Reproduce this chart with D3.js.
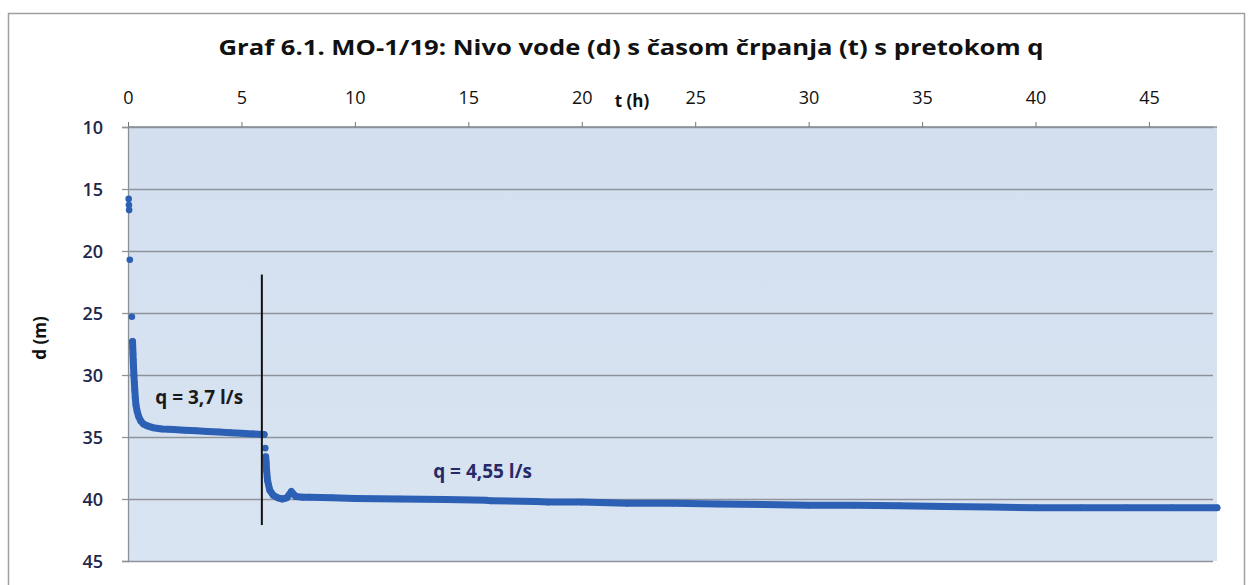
<!DOCTYPE html>
<html lang="sl">
<head>
<meta charset="UTF-8">
<title>Graf 6.1. MO-1/19</title>
<script src="https://d3js.org/d3.v7.min.js"></script>
<style>
    body { margin: 0; background: #fff; }
    .title { font-family: "Liberation Sans Narrow", "Open Sans", sans-serif; font-size: 22px; font-weight: bold; fill: #111; }
    .xlab text { font-family: "Open Sans", sans-serif; font-size: 18px; fill: #111; }
    .ylab text { font-family: "Open Sans", sans-serif; font-size: 18px; font-weight: 600; fill: #22274b; }
    .axis-title { font-family: "Open Sans", sans-serif; font-size: 17px; font-weight: bold; fill: #111; }
    .note { font-family: "Liberation Sans Narrow", "Open Sans", sans-serif; font-size: 19px; font-weight: bold; }
</style>
</head>
<body>
<svg id="chart" width="1250" height="585"></svg>
<script>
    // sparse first readings (dots only)
    const earlyT = [0.03, 0.04, 0.05, 0.08, 0.17];
    const earlyD = [15.8, 16.3, 16.7, 20.7, 25.3];

    // q = 3,7 l/s
    const phase1T = [0.20, 0.21, 0.22, 0.23, 0.24, 0.26, 0.28, 0.30, 0.32, 0.35, 0.40, 0.47, 0.56, 0.68, 0.85,
                     1.1, 1.5, 2.0, 2.5, 3.0, 3.5, 4.0, 4.5, 5.0, 5.5, 6.0];
    const phase1D = [27.3, 27.8, 28.3, 28.8, 29.2, 30.0, 30.6, 31.2, 31.8, 32.4, 32.9, 33.35, 33.7, 33.95, 34.1,
                     34.25, 34.35, 34.4, 34.45, 34.5, 34.55, 34.6, 34.65, 34.7, 34.75, 34.8];

    // q = 4,55 l/s
    const phase2T = [6.05, 6.07, 6.09, 6.11, 6.15, 6.25, 6.4, 6.6, 6.8, 7.0, 7.2, 7.4, 7.7, 8, 9, 10, 12, 14, 15.8,
                     16, 18, 18.5, 20, 22, 24, 26, 28, 30, 32, 34, 36, 38, 40, 42, 44, 46, 48];
    const phase2D = [35.9, 36.6, 37.1, 37.7, 38.5, 39.3, 39.7, 39.9, 40.0, 39.9, 39.4, 39.8, 39.85, 39.85, 39.9, 39.95, 40.0, 40.05, 40.1,
                     40.15, 40.2, 40.25, 40.25, 40.35, 40.35, 40.4, 40.45, 40.5, 40.5, 40.55, 40.6, 40.65, 40.7, 40.7, 40.7, 40.7, 40.7];

    const xTicks = [0, 5, 10, 15, 20, 25, 30, 35, 40, 45];
    const yTicks = [10, 15, 20, 25, 30, 35, 40, 45];

    // pump change marker and flow labels
    const changeT = 5.9, changeD = [21.9, 42.1];
    const notes = [
        { text: 'q = 3,7 l/s', t: 1.2, d: 32.35, color: '#1a1a1a' },
        { text: 'q = 4,55 l/s', t: 13.45, d: 38.3, color: '#262a66' }
    ];

    const svg = d3.select('#chart');
    const x = d3.scaleLinear().domain([0, 48]).range([128, 1217]);
    const y = d3.scaleLinear().domain([10, 45]).range([127, 561]);

    // outer frame
    svg.append('rect')
        .attr('x', 8.5).attr('y', 13.5).attr('width', 1236).attr('height', 600)
        .attr('fill', 'none').attr('stroke', '#a0a0a0').attr('stroke-width', 1.5);

    svg.append('text')
        .attr('class', 'title')
        .attr('x', 631).attr('y', 55)
        .attr('text-anchor', 'middle')
        .attr('textLength', 825).attr('lengthAdjust', 'spacingAndGlyphs')
        .text('Graf 6.1. MO-1/19: Nivo vode (d) s časom črpanja (t) s pretokom q');

    // plot area
    const bg = svg.append('defs').append('linearGradient')
        .attr('id', 'bg').attr('x1', 0).attr('y1', 0).attr('x2', 0).attr('y2', 1);
    bg.append('stop').attr('offset', '0%').attr('stop-color', '#d3dfef');
    bg.append('stop').attr('offset', '100%').attr('stop-color', '#d9e4f2');
    svg.append('rect')
        .attr('x', x(0)).attr('y', y(10))
        .attr('width', x(48) - x(0)).attr('height', y(45) - y(10))
        .attr('fill', 'url(#bg)');

    // gridlines with left ticks
    svg.append('g')
        .attr('class', 'grid')
        .attr('transform', `translate(${x(0)},0)`)
        .call(d3.axisLeft(y).tickValues(yTicks).tickSize(-(x(48) - x(0) - 4)).tickFormat(''))
        .call(g => g.select('.domain').remove())
        .call(g => g.selectAll('line').attr('stroke', '#8e939c').attr('stroke-width', 1.3));
    svg.append('g')
        .attr('transform', `translate(${x(0)},0)`)
        .call(d3.axisLeft(y).tickValues(yTicks).tickSize(6).tickFormat(''))
        .call(g => g.select('.domain').attr('stroke', '#8a8f98').attr('stroke-width', 1.3))
        .call(g => g.selectAll('line').attr('stroke', '#8e939c').attr('stroke-width', 1.3));

    // y labels
    svg.append('g')
        .attr('class', 'ylab')
        .attr('transform', `translate(${x(0) - 25},0)`)
        .call(d3.axisLeft(y).tickValues(yTicks).tickSize(0).tickPadding(0))
        .call(g => g.select('.domain').remove())
        .selectAll('text').attr('dy', '0.35em');

    // top axis
    svg.append('g')
        .attr('class', 'xlab')
        .attr('transform', `translate(0,${y(10)})`)
        .call(d3.axisTop(x).tickValues(xTicks).tickSize(5).tickPadding(18))
        .call(g => g.select('.domain').attr('stroke', '#8a8f98').attr('stroke-width', 1.3)
            .attr('d', `M${x(0)},0H${x(48)}`))
        .call(g => g.selectAll('line').attr('stroke', '#777'));

    svg.append('text')
        .attr('class', 'axis-title')
        .attr('x', 632).attr('y', 107)
        .attr('text-anchor', 'middle')
        .text('t (h)');
    svg.append('text')
        .attr('class', 'axis-title')
        .attr('transform', 'translate(46,338) rotate(-90)')
        .attr('text-anchor', 'middle')
        .text('d (m)');

    const blue = '#2c60b4';
    const line = d3.line().x(d => x(d[0])).y(d => y(d[1]));
    const p1 = phase1T.map((t, i) => [t, phase1D[i]]);
    const p2 = phase2T.map((t, i) => [t, phase2D[i]]);
    const early = earlyT.map((t, i) => [t, earlyD[i]]);

    [p1, p2.slice(1)].forEach(p => {
        svg.append('path')
            .datum(p)
            .attr('d', line)
            .attr('fill', 'none')
            .attr('stroke', blue)
            .attr('stroke-width', 7)
            .attr('stroke-linejoin', 'round')
            .attr('stroke-linecap', 'round');
    });

    svg.append('g')
        .selectAll('circle')
        .data(early.concat(p1, p2))
        .join('circle')
        .attr('cx', d => x(d[0]))
        .attr('cy', d => y(d[1]))
        .attr('r', 3.3)
        .attr('fill', blue);

    svg.append('line')
        .attr('x1', x(changeT)).attr('x2', x(changeT))
        .attr('y1', y(changeD[0])).attr('y2', y(changeD[1]))
        .attr('stroke', '#111').attr('stroke-width', 2);

    svg.selectAll('.note')
        .data(notes)
        .join('text')
        .attr('class', 'note')
        .attr('x', d => x(d.t))
        .attr('y', d => y(d.d))
        .attr('fill', d => d.color)
        .text(d => d.text);
</script>
</body>
</html>
